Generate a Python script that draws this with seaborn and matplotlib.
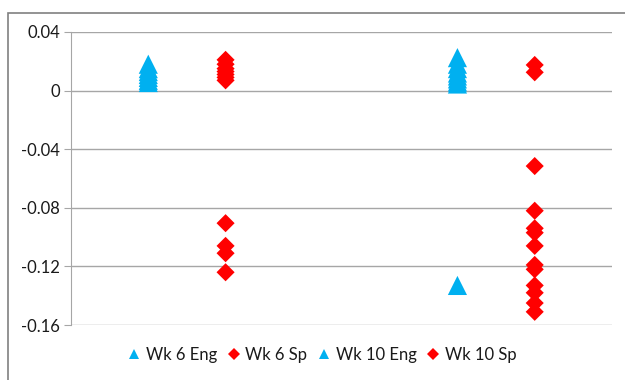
import pandas as pd
import matplotlib.pyplot as plt
import seaborn as sns
from matplotlib.patches import Rectangle

# series names and their x slots on the 0..7 axis
series = ["Wk 6 Eng", "Wk 6 Sp", "Wk 10 Eng", "Wk 10 Sp"]
x_slot = [1, 2, 5, 6]

wk6_eng = [0.018, 0.015, 0.013, 0.011, 0.009, 0.007, 0.0055]
wk6_sp = [0.021, 0.018, 0.015, 0.013, 0.011, 0.009, 0.007,
          -0.0905, -0.106, -0.111, -0.124]
wk10_eng = [0.0225, 0.018, 0.015, 0.012, 0.010, 0.008, 0.006, 0.0045,
            -0.133]
wk10_sp = [0.0175, 0.0125, -0.0515, -0.082, -0.094, -0.097, -0.106,
           -0.119, -0.122, -0.133, -0.138, -0.145, -0.151]

values = [wk6_eng, wk6_sp, wk10_eng, wk10_sp]
rows = []
for name, x, vals in zip(series, x_slot, values):
    for v in vals:
        rows.append({"series": name, "x": x, "value": v})
df = pd.DataFrame(rows)

palette = {"Wk 6 Eng": "#00B0F0", "Wk 6 Sp": "#FF0000",
           "Wk 10 Eng": "#00B0F0", "Wk 10 Sp": "#FF0000"}
markers = {"Wk 6 Eng": "^", "Wk 6 Sp": "D", "Wk 10 Eng": "^", "Wk 10 Sp": "D"}
sizes = {"Wk 6 Eng": 190, "Wk 6 Sp": 85, "Wk 10 Eng": 190, "Wk 10 Sp": 85}

sns.set_style("white")
plt.rcParams["font.family"] = ["Lato", "DejaVu Sans"]

fig = plt.figure(figsize=(6.25, 3.8), dpi=100)
ax = fig.add_axes([71 / 625, 1 - 325 / 380, 541 / 625, 293 / 380])

sns.scatterplot(data=df, x="x", y="value", hue="series", style="series",
                size="series", sizes=sizes, palette=palette, markers=markers,
                hue_order=series, style_order=series, size_order=series,
                linewidth=0, ax=ax, legend=True)

ax.set_xlim(0, 7)
ax.set_ylim(-0.16, 0.04)
ax.set_yticks([0.04, 0, -0.04, -0.08, -0.12, -0.16])
ax.set_yticklabels(["0.04", "0", "-0.04", "-0.08", "-0.12", "-0.16"])
ax.set_xticks([])
ax.set_xlabel("")
ax.set_ylabel("")
ax.grid(axis="y", color="#a6a6a6", linewidth=1)
ax.set_axisbelow(True)
for side in ["top", "right", "bottom"]:
    ax.spines[side].set_visible(False)
ax.spines["left"].set_color("#a6a6a6")
ax.tick_params(axis="y", length=5, color="#a6a6a6", labelsize=12,
               labelcolor="#1a1a1a", pad=3, left=True)

handles, labels = ax.get_legend_handles_labels()
ax.legend_.remove()
for h in handles:
    h.set_markersize(7.5 if h.get_marker() == "^" else 6.5)
fig.legend(handles, labels, loc="center", bbox_to_anchor=(0.515, 0.066),
           ncol=4, frameon=False, fontsize=12, handlelength=0.8,
           handletextpad=0.3, columnspacing=0.6, borderaxespad=0,
           labelcolor="#1a1a1a")

# outer chart border (cut off at right and bottom)
fig.patches.append(Rectangle((8 / 625, -0.1), 1.2, 1 - 13 / 380 + 0.1,
                             transform=fig.transFigure, fill=False,
                             edgecolor="#808080", linewidth=1.2))

fig.savefig("out.png", dpi=100)
